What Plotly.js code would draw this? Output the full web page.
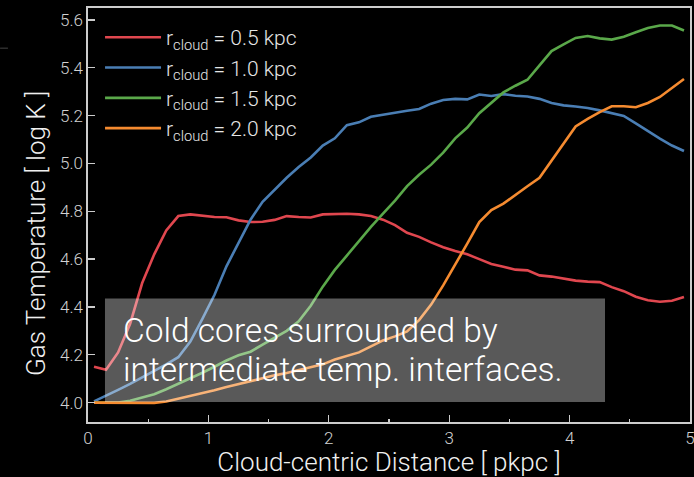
<!DOCTYPE html>
<html>
<head>
<meta charset="utf-8">
<script src="https://cdn.plot.ly/plotly-3.0.1.min.js"></script>
<style>
  html, body { margin: 0; padding: 0; background: #000; }
  #chart { width: 694px; height: 477px; }
</style>
</head>
<body>
<div id="chart"></div>
<script>
// Radial bin centres (pkpc)
const distance = [
  0.05, 0.15, 0.25, 0.35, 0.45, 0.55, 0.65, 0.75, 0.85, 0.95,
  1.05, 1.15, 1.25, 1.35, 1.45, 1.55, 1.65, 1.75, 1.85, 1.95,
  2.05, 2.15, 2.25, 2.35, 2.45, 2.55, 2.65, 2.75, 2.85, 2.95,
  3.05, 3.15, 3.25, 3.35, 3.45, 3.55, 3.65, 3.75, 3.85, 3.95,
  4.05, 4.15, 4.25, 4.35, 4.45, 4.55, 4.65, 4.75, 4.85, 4.95
];

// log gas temperature profiles, one per cloud radius
const temp_r05 = [
  4.150, 4.137, 4.210, 4.330, 4.500, 4.620, 4.720, 4.780, 4.787, 4.780,
  4.776, 4.775, 4.762, 4.755, 4.756, 4.764, 4.780, 4.776, 4.774, 4.787,
  4.790, 4.790, 4.787, 4.780, 4.765, 4.742, 4.710, 4.693, 4.670, 4.650,
  4.634, 4.620, 4.600, 4.580, 4.568, 4.556, 4.553, 4.532, 4.527, 4.519,
  4.510, 4.506, 4.504, 4.483, 4.466, 4.443, 4.428, 4.422, 4.426, 4.442
];
const temp_r10 = [
  4.005, 4.028, 4.053, 4.078, 4.105, 4.130, 4.160, 4.190, 4.255, 4.350,
  4.450, 4.570, 4.670, 4.765, 4.840, 4.890, 4.940, 4.985, 5.025, 5.075,
  5.105, 5.160, 5.172, 5.195, 5.205, 5.212, 5.220, 5.228, 5.250, 5.265,
  5.270, 5.268, 5.288, 5.282, 5.290, 5.283, 5.280, 5.270, 5.253, 5.243,
  5.238, 5.232, 5.222, 5.209, 5.199, 5.168, 5.135, 5.104, 5.075, 5.052
];
const temp_r15 = [
  4.000, 4.000, 4.000, 4.008, 4.020, 4.035, 4.056, 4.078, 4.101, 4.125,
  4.150, 4.176, 4.198, 4.213, 4.243, 4.272, 4.300, 4.340, 4.405, 4.485,
  4.555, 4.615, 4.677, 4.735, 4.790, 4.845, 4.905, 4.953, 4.995, 5.045,
  5.105, 5.150, 5.210, 5.255, 5.297, 5.325, 5.350, 5.410, 5.470, 5.498,
  5.525, 5.533, 5.523, 5.518, 5.530, 5.549, 5.566, 5.577, 5.577, 5.556
];
const temp_r20 = [
  4.000, 4.000, 4.000, 3.999, 3.998, 3.999, 4.005, 4.016, 4.028, 4.040,
  4.052, 4.065, 4.078, 4.091, 4.103, 4.114, 4.124, 4.135, 4.147, 4.160,
  4.180, 4.196, 4.210, 4.235, 4.260, 4.277, 4.298, 4.345, 4.410, 4.490,
  4.575, 4.665, 4.755, 4.805, 4.832, 4.870, 4.905, 4.940, 5.010, 5.085,
  5.155, 5.186, 5.215, 5.239, 5.239, 5.235, 5.253, 5.278, 5.314, 5.353
];

const seriesNames = [
  "r<sub>cloud</sub> = 0.5 kpc",
  "r<sub>cloud</sub> = 1.0 kpc",
  "r<sub>cloud</sub> = 1.5 kpc",
  "r<sub>cloud</sub> = 2.0 kpc"
];
const seriesColors = ["#e0474f", "#4a7eb4", "#5aa84a", "#f58b30"];
const profiles = [temp_r05, temp_r10, temp_r15, temp_r20];

const xTicks = [0, 1, 2, 3, 4, 5];
const xTickText = ["0", "1", "2", "3", "4", "5"];
const yTicks = [4.0, 4.2, 4.4, 4.6, 4.8, 5.0, 5.2, 5.4, 5.6];
const yTickText = ["4.0", "4.2", "4.4", "4.6", "4.8", "5.0", "5.2", "5.4", "5.6"];

const xTitle = "Cloud-centric Distance [ pkpc ]";
const yTitle = "Gas Temperature [ log K ]";
const noteLines = ["Cold cores surrounded by", "intermediate temp. interfaces."];

const FONT = "Roboto, 'DejaVu Sans', sans-serif";
const axisColor = "#cccccc";
const tickLabelColor = "#d2d2d2";

const traces = profiles.map((vals, i) => ({
  x: distance,
  y: vals,
  type: "scatter",
  mode: "lines",
  name: seriesNames[i],
  line: { color: seriesColors[i], width: 2.6 }
}));

// text block in the lower-left, one annotation per line
const noteY = [4.302, 4.138];
const noteAnnotations = noteLines.map((txt, i) => ({
  xref: "x", yref: "y",
  x: 0.272, y: noteY[i],
  xanchor: "left", yanchor: "middle",
  align: "left",
  text: txt,
  showarrow: false,
  font: { family: FONT, size: 33.5, color: "#ffffff", weight: 300 }
}));

// vertical axis label, set slightly below the axis midpoint
const yTitleAnnotation = {
  xref: "paper", yref: "paper",
  x: -0.0864, y: 0.4565,
  xanchor: "center", yanchor: "middle",
  textangle: -90,
  text: yTitle,
  showarrow: false,
  font: { family: FONT, size: 26, color: "#f0f0f0", weight: 300 }
};

const layout = {
  width: 694,
  height: 477,
  paper_bgcolor: "#000",
  plot_bgcolor: "#000",
  margin: { l: 88, r: 4, t: 8, b: 55 },
  font: { family: FONT, color: "#ffffff", weight: 300 },
  showlegend: true,
  legend: {
    x: 0.02, y: 0.978, xanchor: "left", yanchor: "top",
    bgcolor: "rgba(0,0,0,0)",
    itemwidth: 56,
    font: { family: FONT, size: 21, color: "#e6e6e6", weight: 300 },
    itemclick: false
  },
  xaxis: {
    range: [0, 5],
    tickmode: "array",
    tickvals: xTicks,
    ticktext: xTickText,
    ticks: "inside",
    ticklen: 7,
    tickwidth: 1.3,
    tickcolor: axisColor,
    minor: { tickmode: "linear", tick0: 0, dtick: 0.5, ticks: "inside", ticklen: 3.5, tickwidth: 1.3, tickcolor: axisColor, showgrid: false },
    showgrid: false,
    zeroline: false,
    showline: true,
    linecolor: axisColor,
    linewidth: 1.6,
    mirror: true,
    ticklabeloverflow: "allow",
    tickfont: { family: FONT, size: 17, color: tickLabelColor, weight: 300 },
    title: {
      text: xTitle,
      font: { family: FONT, size: 26, color: "#f0f0f0", weight: 300 },
      standoff: 4
    }
  },
  yaxis: {
    range: [3.919, 5.65],
    tickmode: "array",
    tickvals: yTicks,
    ticktext: yTickText,
    ticks: "inside",
    ticklen: 7,
    tickwidth: 1.3,
    tickcolor: axisColor,
    showgrid: false,
    zeroline: false,
    showline: true,
    linecolor: axisColor,
    linewidth: 1.6,
    mirror: true,
    tickfont: { family: FONT, size: 17, color: tickLabelColor, weight: 300 }
  },
  shapes: [
    {
      type: "rect", layer: "above",
      xref: "x", yref: "y",
      x0: 0.141, x1: 4.294, y0: 4.003, y1: 4.435,
      fillcolor: "rgba(255,255,255,0.35)",
      line: { width: 0 }
    },
    {
      type: "line", xref: "paper", yref: "paper",
      x0: -0.146, x1: -0.133, y0: 0.903, y1: 0.903,
      line: { color: "#444444", width: 1 }
    }
  ],
  annotations: [yTitleAnnotation].concat(noteAnnotations)
};

Plotly.newPlot("chart", traces, layout, { staticPlot: true, displayModeBar: false });
</script>
</body>
</html>
